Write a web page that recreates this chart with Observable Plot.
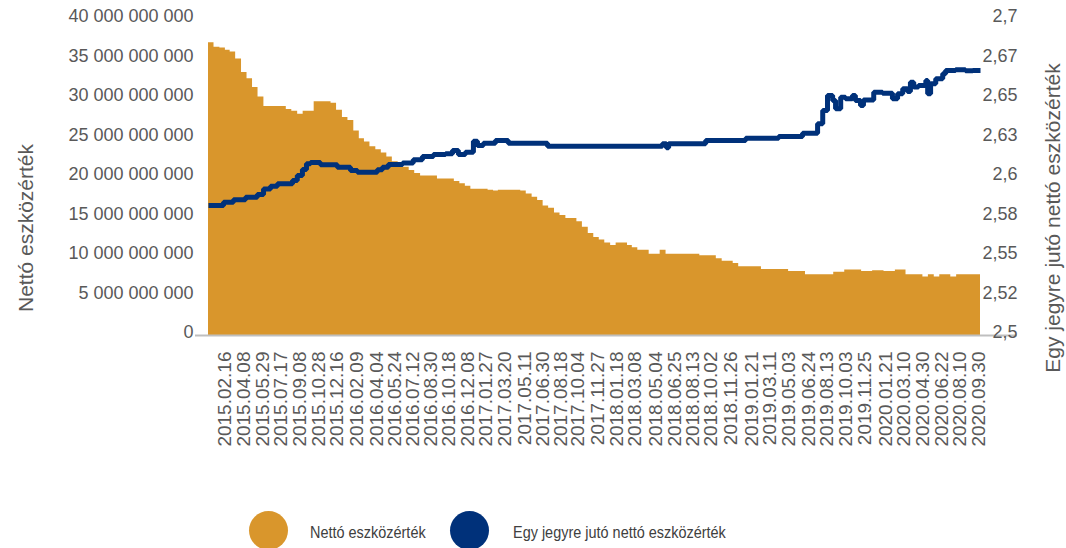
<!DOCTYPE html>
<html>
<head>
<meta charset="utf-8">
<script src="https://cdn.jsdelivr.net/npm/d3@7"></script>
<script src="https://cdn.jsdelivr.net/npm/@observablehq/plot@0.6"></script>
<style>
  html, body { margin: 0; padding: 0; background: #fff; overflow: hidden; }
  #root { position: relative; width: 1066px; height: 548px; overflow: hidden; font-family: "Liberation Sans", Arial, sans-serif; }
  #chart { position: absolute; left: 0; top: 0; }
  .ytitle { position: absolute; white-space: nowrap; font-size: 21px; line-height: 24px; color: #595959;
            transform: translate(-50%, -50%) rotate(-90deg); }
  .swatch { position: absolute; width: 39px; height: 39px; border-radius: 50%; }
  .ltext { position: absolute; white-space: nowrap; font-size: 17px; line-height: 24px; color: #404040;
           transform: scaleX(0.85); transform-origin: left center; }
</style>
</head>
<body>
<div id="root">
  <div id="chart"></div>
</div>
<script>
// ---------------- data ----------------
const seriesNames = ["Nettó eszközérték", "Egy jegyre jutó nettó eszközérték"];
const seriesColors = ["#D9962C", "#00317A"];
const leftAxisTitle = "Nettó eszközérték";
const rightAxisTitle = "Egy jegyre jutó nettó eszközérték";

const tickLabels = ["2015.02.16","2015.04.08","2015.05.29","2015.07.17","2015.09.08","2015.10.28","2015.12.16",
  "2016.02.09","2016.04.04","2016.05.24","2016.07.12","2016.08.30","2016.10.18","2016.12.08",
  "2017.01.27","2017.03.20","2017.05.11","2017.06.30","2017.08.18","2017.10.04","2017.11.27",
  "2018.01.18","2018.03.08","2018.05.04","2018.06.25","2018.08.13","2018.10.02","2018.11.26",
  "2019.01.21","2019.03.11","2019.05.03","2019.06.24","2019.08.13","2019.10.03","2019.11.25",
  "2020.01.21","2020.03.10","2020.04.30","2020.06.22","2020.08.10","2020.09.30"];

// left axis: net asset value, in billions HUF
const leftTickValues = [0, 5, 10, 15, 20, 25, 30, 35, 40];
const leftTickLabels = ["0","5 000 000 000","10 000 000 000","15 000 000 000","20 000 000 000",
  "25 000 000 000","30 000 000 000","35 000 000 000","40 000 000 000"];
// right axis: NAV per unit
const rightTickValues = [2.5, 2.525, 2.55, 2.575, 2.6, 2.625, 2.65, 2.675, 2.7];
const rightTickLabels = ["2,5","2,52","2,55","2,58","2,6","2,63","2,65","2,67","2,7"];

// Net asset value (billion HUF)
const navSeries = [
  ["2015-01-01",37.05],["2015-01-16",36.5],["2015-02-01",36.4],["2015-02-16",36.1],["2015-03-01",35.9],["2015-03-16",35.0],
  ["2015-04-01",33.3],["2015-04-16",32.5],["2015-05-01",31.4],["2015-05-16",30.2],["2015-06-01",29.0],["2015-06-16",29.0],
  ["2015-07-01",29.0],["2015-07-16",29.0],["2015-08-01",28.6],["2015-08-16",28.4],["2015-09-01",28.0],["2015-09-16",28.4],
  ["2015-10-01",28.4],["2015-10-16",29.6],["2015-11-01",29.6],["2015-11-16",29.6],["2015-12-01",29.4],["2015-12-16",28.5],
  ["2016-01-01",27.6],["2016-01-16",27.2],["2016-02-01",25.9],["2016-02-16",24.9],["2016-03-01",24.5],["2016-03-16",23.9],
  ["2016-04-01",23.5],["2016-04-16",23.1],["2016-05-01",22.6],["2016-05-16",22.0],["2016-06-01",21.3],["2016-06-16",21.3],
  ["2016-07-01",20.9],["2016-07-16",20.5],["2016-08-01",20.2],["2016-08-16",20.2],["2016-09-01",20.2],["2016-09-16",19.8],
  ["2016-10-01",19.8],["2016-10-16",19.8],["2016-11-01",19.5],["2016-11-16",19.2],["2016-12-01",18.9],["2016-12-16",18.5],
  ["2017-01-01",18.5],["2017-01-16",18.5],["2017-02-01",18.4],["2017-02-16",18.3],["2017-03-01",18.4],["2017-03-16",18.4],
  ["2017-04-01",18.4],["2017-04-16",18.4],["2017-05-01",18.3],["2017-05-16",17.9],["2017-06-01",17.5],["2017-06-16",17.1],
  ["2017-07-01",16.4],["2017-07-16",16.1],["2017-08-01",15.5],["2017-08-16",15.2],["2017-09-01",14.8],["2017-09-16",14.8],
  ["2017-10-01",14.4],["2017-10-16",13.7],["2017-11-01",12.9],["2017-11-16",12.4],["2017-12-01",12.1],["2017-12-16",11.7],
  ["2018-01-01",11.4],["2018-01-16",11.7],["2018-02-01",11.7],["2018-02-16",11.4],["2018-03-01",11.1],["2018-03-16",10.8],
  ["2018-04-01",10.8],["2018-04-16",10.3],["2018-05-01",10.3],["2018-05-16",10.8],["2018-06-01",10.3],["2018-06-16",10.3],
  ["2018-07-01",10.3],["2018-07-16",10.3],["2018-08-01",10.3],["2018-08-16",10.3],["2018-09-01",10.1],["2018-09-16",10.1],
  ["2018-10-01",10.1],["2018-10-16",9.7],["2018-11-01",9.4],["2018-11-16",9.4],["2018-12-01",9.1],["2018-12-16",8.7],
  ["2019-01-01",8.7],["2019-01-16",8.7],["2019-02-01",8.7],["2019-02-16",8.35],["2019-03-01",8.35],["2019-03-16",8.35],
  ["2019-04-01",8.35],["2019-04-16",8.35],["2019-05-01",8.1],["2019-05-16",8.1],["2019-06-01",8.1],["2019-06-16",7.7],
  ["2019-07-01",7.7],["2019-07-16",7.7],["2019-08-01",7.7],["2019-08-16",7.7],["2019-09-01",8.0],["2019-09-16",8.0],
  ["2019-10-01",8.3],["2019-10-16",8.3],["2019-11-01",8.3],["2019-11-16",8.1],["2019-12-01",8.1],["2019-12-16",8.2],
  ["2020-01-01",8.2],["2020-01-16",8.1],["2020-02-01",8.1],["2020-02-16",8.3],["2020-03-01",8.3],["2020-03-16",7.7],
  ["2020-04-01",7.7],["2020-04-16",7.7],["2020-05-01",7.4],["2020-05-16",7.7],["2020-06-01",7.4],["2020-06-16",7.7],
  ["2020-07-01",7.7],["2020-07-16",7.4],["2020-08-01",7.7],["2020-08-16",7.7],["2020-09-01",7.7],["2020-09-16",7.7],
  ["2020-09-30",7.7],["2020-10-05",7.7]
];

// NAV per unit (HUF)
const unitSeries = [
  ["2015-01-01",2.5823],["2015-02-11",2.5844],["2015-03-10",2.5859],["2015-04-12",2.5875],["2015-05-14",2.5892],
  ["2015-05-31",2.5928],["2015-06-19",2.5945],["2015-07-08",2.5960],["2015-08-18",2.5981],["2015-08-31",2.6013],
  ["2015-09-14",2.6051],["2015-09-25",2.6087],["2015-10-06",2.6095],["2015-11-02",2.6080],["2015-12-18",2.6065],
  ["2016-01-23",2.6044],["2016-02-11",2.6034],["2016-04-05",2.6049],["2016-04-19",2.6065],["2016-05-05",2.6082],
  ["2016-06-13",2.6091],["2016-07-12",2.6112],["2016-08-06",2.6133],["2016-09-05",2.6146],["2016-10-08",2.6150],
  ["2016-10-27",2.6171],["2016-11-12",2.6146],["2016-12-01",2.6160],["2016-12-23",2.6230],["2017-01-03",2.6203],
  ["2017-01-19",2.6217],["2017-02-21",2.6234],["2017-03-28",2.6217],["2017-07-13",2.6198],["2018-05-22",2.6213],
  ["2018-06-02",2.6188],["2018-06-08",2.6213],["2018-09-17",2.6234],["2019-01-04",2.6249],["2019-04-04",2.6260],
  ["2019-06-08",2.6280],["2019-07-19",2.6340],["2019-08-02",2.6424],["2019-08-15",2.6519],["2019-08-29",2.6487],
  ["2019-09-06",2.6435],["2019-09-20",2.6508],["2019-10-03",2.6498],["2019-10-22",2.6519],["2019-10-30",2.6487],
  ["2019-11-13",2.6456],["2019-11-21",2.6491],["2019-12-19",2.6540],["2020-01-12",2.6534],["2020-02-08",2.6498],
  ["2020-02-22",2.6530],["2020-03-07",2.6561],["2020-03-20",2.6545],["2020-03-28",2.6603],["2020-04-06",2.6572],
  ["2020-04-19",2.6582],["2020-05-09",2.6614],["2020-05-14",2.6530],["2020-05-22",2.6593],["2020-06-05",2.6625],
  ["2020-06-24",2.6656],["2020-07-02",2.6677],["2020-07-29",2.6682],["2020-08-25",2.6675],["2020-09-14",2.6677],
  ["2020-10-05",2.6677]
];

// ---------------- chart ----------------
const parse = d3.utcParse("%Y-%m-%d");
const parseTick = d3.utcParse("%Y.%m.%d");
const fmtTick = d3.utcFormat("%Y.%m.%d");
// map the right (per-unit) axis onto the left scale
const rMin = rightTickValues[0], rMax = rightTickValues[rightTickValues.length - 1];
const lMin = leftTickValues[0], lMax = leftTickValues[leftTickValues.length - 1];
const toLeft = p => lMin + (p - rMin) / (rMax - rMin) * (lMax - lMin);

const leftLabelMap = new Map(leftTickValues.map((v, i) => [v, leftTickLabels[i]]));
const rightPos = rightTickValues.map(toLeft);
const rightLabelMap = new Map(rightPos.map((v, i) => [v, rightTickLabels[i]]));
const tickDates = tickLabels.map(parseTick);

const chart = Plot.plot({
  width: 1066,
  height: 505,
  marginLeft: 208,
  marginRight: 86,
  marginTop: 19,
  marginBottom: 170,
  style: { fontFamily: "'Liberation Sans', Arial, sans-serif", fontSize: "18px", color: "#595959", background: "#fff", overflow: "visible" },
  x: { type: "utc", domain: [parse(navSeries[0][0]), parse(navSeries[navSeries.length - 1][0])] },
  y: { domain: [lMin, lMax] },
  marks: [
    Plot.areaY(navSeries, { x: d => parse(d[0]), y: d => d[1], curve: "step-after", fill: seriesColors[0] }),
    Plot.lineY(unitSeries, { x: d => parse(d[0]), y: d => toLeft(d[1]), curve: "step-after",
      stroke: seriesColors[1], strokeWidth: 5, strokeLinejoin: "miter", strokeLinecap: "butt" }),
    Plot.ruleY([lMin], { stroke: "#BFBFBF", strokeWidth: 2, insetLeft: -13, insetRight: -37 }),
    Plot.axisY(leftTickValues, { anchor: "left", tickSize: 0, tickPadding: 15, dy: -3, fill: "#595959",
      tickFormat: d => leftLabelMap.get(d), label: null, fontSize: 18 }),
    Plot.axisY(rightPos, { anchor: "right", tickSize: 0, tickPadding: 37, textAnchor: "end", dy: -3, fill: "#595959",
      tickFormat: d => rightLabelMap.get(d), label: null, fontSize: 18 }),
    Plot.axisX(tickDates, { anchor: "bottom", tickSize: 0, tickPadding: 16, tickRotate: -90, fill: "#595959",
      tickFormat: fmtTick, label: null, fontSize: 19 })
  ]
});
document.getElementById("chart").appendChild(chart);

// axis titles and legend (HTML around the SVG)
const root = document.getElementById("root");
function addDiv(cls, text, css) {
  const el = document.createElement("div");
  el.className = cls;
  if (text) el.textContent = text;
  Object.assign(el.style, css);
  root.appendChild(el);
  return el;
}
addDiv("ytitle", leftAxisTitle, { left: "26px", top: "228px" });
addDiv("ytitle", rightAxisTitle, { left: "1053px", top: "218px" });

const legendSwatchX = [248.5, 449.5];
const legendTextX = [310, 513];
seriesNames.forEach((name, i) => {
  addDiv("swatch", "", { left: legendSwatchX[i] + "px", top: "511px", background: seriesColors[i] });
  addDiv("ltext", name, { left: legendTextX[i] + "px", top: "521px" });
});
</script>
</body>
</html>
